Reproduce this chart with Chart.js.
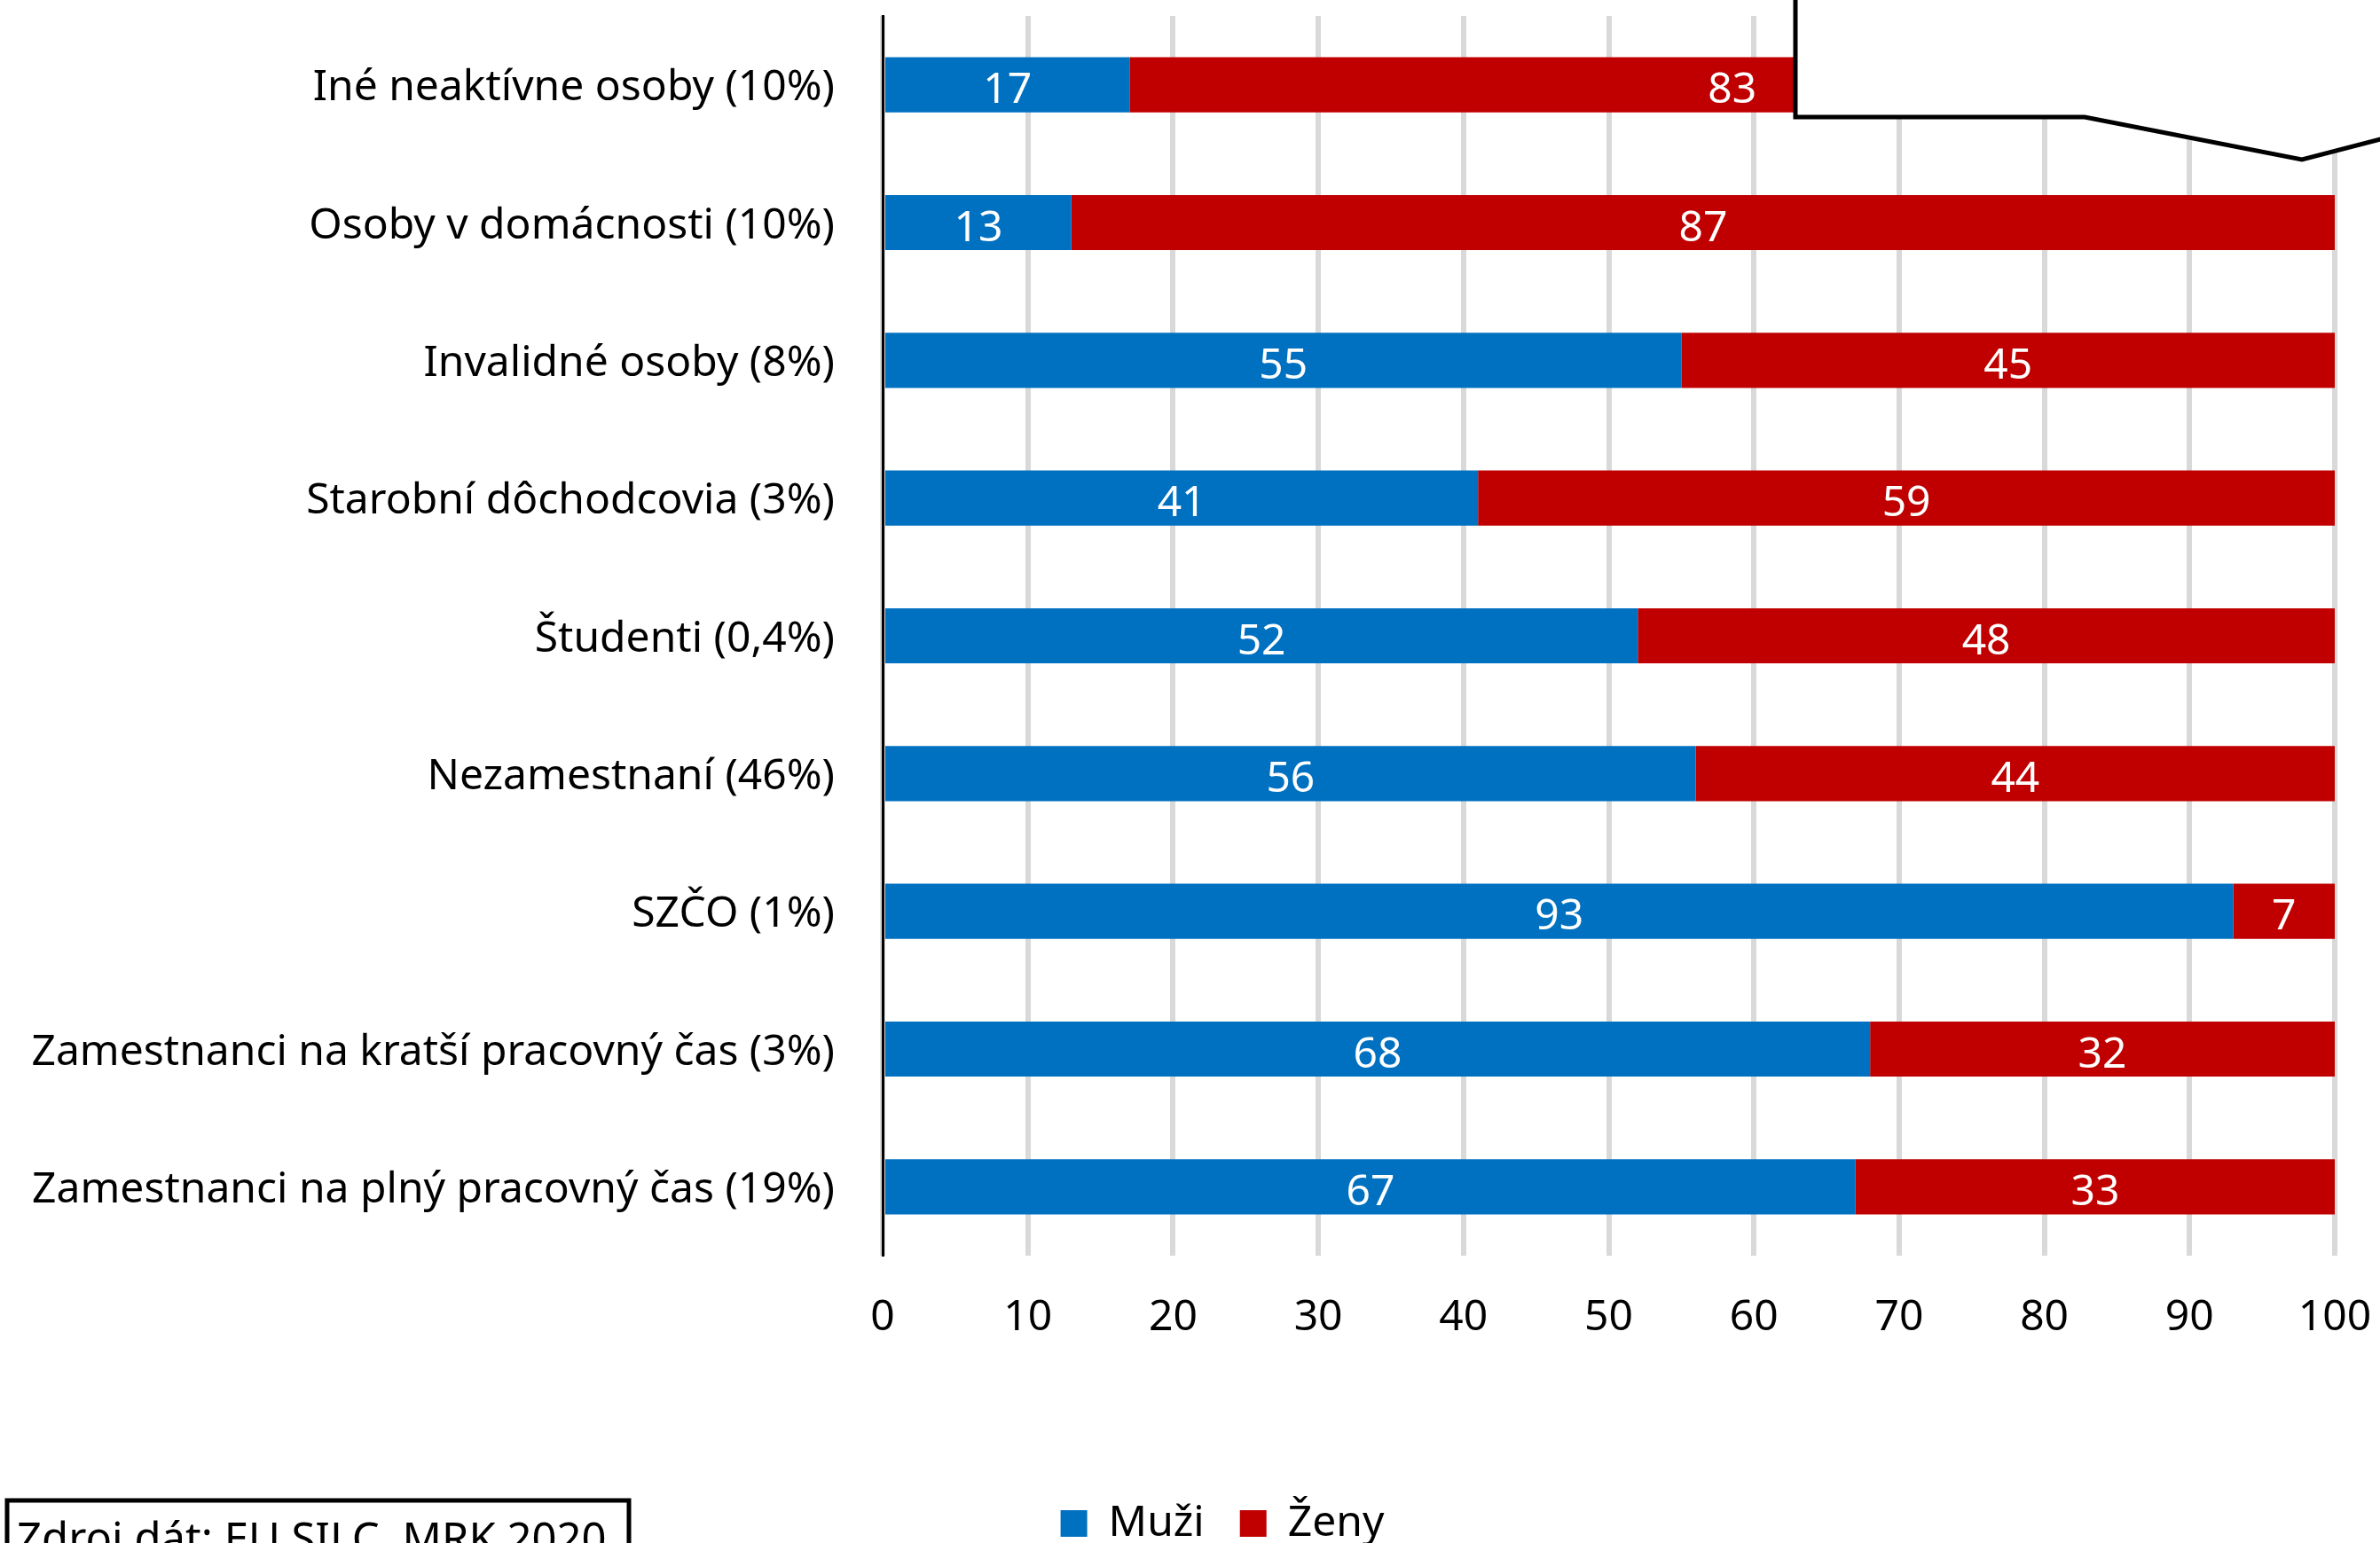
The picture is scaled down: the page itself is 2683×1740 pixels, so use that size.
<!DOCTYPE html>
<html>
<head>
<meta charset="utf-8">
<script src="https://cdn.jsdelivr.net/npm/chart.js@4"></script>
<style>
  html, body { margin: 0; padding: 0; background: #fff; }
  canvas { display: block; }
</style>
</head>
<body>
<canvas id="graf" width="2683" height="1740"></canvas>
<script>
// Kategórie (zhora nadol)
const kategorie = [
    'Iné neaktívne osoby (10%)',
    'Osoby v domácnosti (10%)',
    'Invalidné osoby (8%)',
    'Starobní dôchodcovia (3%)',
    'Študenti (0,4%)',
    'Nezamestnaní (46%)',
    'SZČO (1%)',
    'Zamestnanci na kratší pracovný čas (3%)',
    'Zamestnanci na plný pracovný čas (19%)'
];
const muzi = [17, 13, 55, 41, 52, 56, 93, 68, 67];
const zeny = [83, 87, 45, 59, 48, 44, 7, 32, 33];
const osX = [0, 10, 20, 30, 40, 50, 60, 70, 80, 90, 100];
const zdroj = 'Zdroj dát: EU SILC, MRK 2020';

const RODINA = '"Noto Sans"';
const pismo = { family: RODINA, size: 48 };

// hodnoty v strede segmentov
const hodnotyPlugin = {
    id: 'hodnoty',
    afterDatasetsDraw(chart) {
        const ctx = chart.ctx;
        ctx.save();
        ctx.font = '48px ' + RODINA;
        ctx.fillStyle = '#fff';
        ctx.textAlign = 'center';
        ctx.textBaseline = 'middle';
        chart.data.datasets.forEach((ds, i) => {
            chart.getDatasetMeta(i).data.forEach((bar, j) => {
                ctx.fillText(String(ds.data[j]), (bar.x + bar.base) / 2, bar.y + 7);
            });
        });
        ctx.restore();
    }
};

// popisky osi Y nech sa neorezávajú na ľavom okraji
const osYPlugin = {
    id: 'osY',
    afterLayout(chart) {
        chart.scales.y.left = 0;
    }
};

// bublina vpravo hore a rámik so zdrojom
const dekoracie = {
    id: 'dekoracie',
    afterDraw(chart) {
        const ctx = chart.ctx;
        ctx.save();
        ctx.lineWidth = 5;
        ctx.strokeStyle = '#000';
        ctx.fillStyle = '#fff';
        ctx.beginPath();
        ctx.moveTo(2024, -10);
        ctx.lineTo(2024, 132);
        ctx.lineTo(2350, 132);
        ctx.lineTo(2595, 180);
        ctx.lineTo(2695, 154);
        ctx.lineTo(2695, -10);
        ctx.closePath();
        ctx.fill();
        ctx.stroke();

        ctx.fillRect(8, 1692, 701, 100);
        ctx.strokeRect(8, 1692, 701, 100);
        ctx.font = '49px ' + RODINA;
        ctx.fillStyle = '#000';
        ctx.textAlign = 'left';
        ctx.textBaseline = 'alphabetic';
        ctx.fillText(zdroj, 19, 1752);
        ctx.restore();
    }
};

const graf = new Chart(document.getElementById('graf').getContext('2d'), {
    type: 'bar',
    data: {
        labels: kategorie,
        datasets: [
            { label: 'Muži', data: muzi, backgroundColor: '#0070C0', barPercentage: 0.4, categoryPercentage: 1 },
            { label: 'Ženy', data: zeny, backgroundColor: '#C00000', barPercentage: 0.4, categoryPercentage: 1 }
        ]
    },
    options: {
        indexAxis: 'y',
        responsive: false,
        animation: false,
        layout: { padding: { top: 18, right: 51, left: 124, bottom: -12 } },
        scales: {
            x: {
                stacked: true,
                min: 0,
                max: 100,
                afterBuildTicks: (s) => { s.ticks = osX.map(v => ({ value: v })); },
                afterFit: (s) => { s.height = 238; s.paddingLeft = 0; s.paddingRight = 0; },
                ticks: { color: '#000', font: pismo, padding: 42, maxRotation: 0 },
                grid: { color: '#d9d9d9', lineWidth: 6, drawTicks: false },
                border: { display: false }
            },
            y: {
                stacked: true,
                afterFit: (s) => { s.width = 995 - 124; s.paddingTop = 0; s.paddingBottom = 0; },
                ticks: { color: '#000', font: pismo, padding: 54, labelOffset: 4 },
                grid: { display: false, drawTicks: false },
                border: { display: true, color: '#000', width: 3 }
            }
        },
        plugins: {
            legend: {
                position: 'bottom',
                labels: { color: '#000', font: pismo, boxWidth: 30, boxHeight: 30, padding: 40 }
            },
            tooltip: { enabled: false }
        }
    },
    plugins: [hodnotyPlugin, osYPlugin, dekoracie]
});
</script>
</body>
</html>
